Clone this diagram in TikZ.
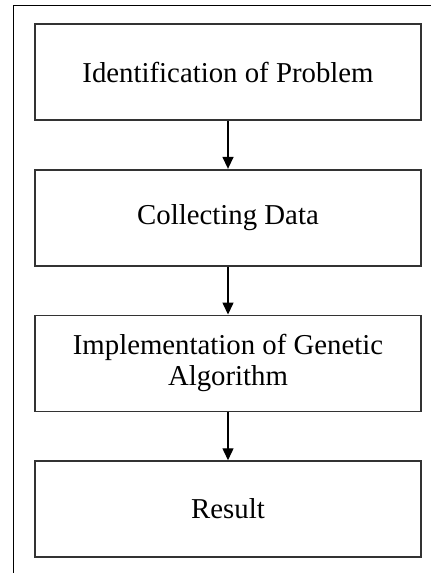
\documentclass[tikz,border=0pt]{standalone}
\usepackage{fontspec}
\setmainfont{Liberation Serif}
\usetikzlibrary{positioning,arrows.meta}

\begin{document}
\begin{tikzpicture}[
    x=1pt, y=1pt,
    node distance=48pt,
    stepbox/.style={draw=black!80, line width=1.7pt, minimum width=386pt, minimum height=96pt, align=center, inner sep=0pt, font=\fontsize{28.8}{31}\selectfont},
    flow/.style={draw, line width=1.4pt, -{Triangle[length=12pt, width=11pt]}},
    frame/.style={draw, line width=1.4pt},
]
    \useasboundingbox (0,0) rectangle (431,-573);
    \clip (0,0) rectangle (431,-573);
    \draw[frame] (13.3,-600) |- (450,-5.5);
    \node[stepbox] (ident) at (228,-72) {Identification of Problem};
    \node[stepbox, below=of ident] (collect) {Collecting Data};
    \node[stepbox, below=of collect] (genetic) {Implementation of Genetic\\Algorithm};
    \node[stepbox, below=of genetic] (result) {Result};
    \draw[flow] (ident) -- (collect);
    \draw[flow] (collect) -- (genetic);
    \draw[flow] (genetic) -- (result);
\end{tikzpicture}
\end{document}
